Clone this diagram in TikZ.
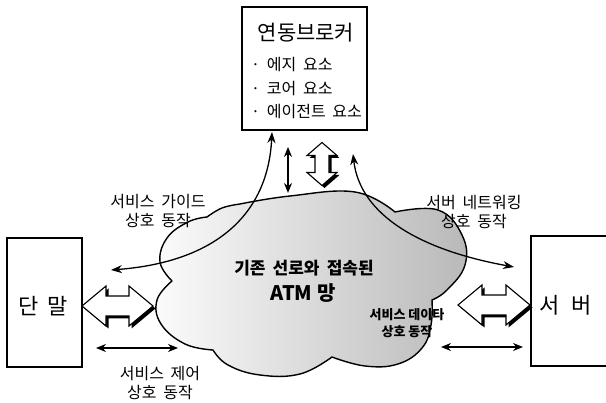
\documentclass[tikz,border=0pt]{standalone}
\usepackage{fontspec}
\setmainfont{Noto Sans CJK KR}
\usetikzlibrary{arrows.meta}
\newcommand\BlockArr[7]{%
  \fill[black,shift={(#1+2.5,#2+2.5)},rotate=#3]
    (-#4,0) -- (-#4+#7,-#5) -- (-#4+#7,-#6) -- (#4-#7,-#6) -- (#4-#7,-#5) -- (#4,0)
    -- (#4-#7,#5) -- (#4-#7,#6) -- (-#4+#7,#6) -- (-#4+#7,#5) -- cycle;
  \filldraw[fill=white,line width=1.1pt,line join=miter,shift={(#1,#2)},rotate=#3]
    (-#4,0) -- (-#4+#7,-#5) -- (-#4+#7,-#6) -- (#4-#7,-#6) -- (#4-#7,-#5) -- (#4,0)
    -- (#4-#7,#5) -- (#4-#7,#6) -- (-#4+#7,#6) -- (-#4+#7,#5) -- cycle;}
\newcommand\wsp{\spaceskip=0.42em plus 0.1em\relax}
\begin{document}
\begin{tikzpicture}[x=1pt,y=-1pt,
  boxst/.style={draw,line width=1.3pt,fill=white},
  lbl/.style={align=center,font=\fontsize{16}{18.5}\selectfont\wsp,inner sep=0pt},
  bul/.style={anchor=west,font=\fontsize{16}{18}\selectfont\wsp,inner sep=0pt},
  thinarr/.style={line width=1.3pt,{Stealth[length=10pt,width=8pt]}-{Stealth[length=10pt,width=8pt]}},
  curvearr/.style={line width=1.3pt,{Stealth[length=11pt,width=8pt]}-{Stealth[length=11pt,width=8pt]}}]
\useasboundingbox (0,0) rectangle (606,403);
\fill[white] (0,0) rectangle (606,403);

% cloud
\def\cloudpath{(172,281)
  -- plot[smooth,tension=0.7] coordinates {(172,281) (160,262) (167,238) (188,222) (207,217)}
  -- plot[smooth,tension=0.7] coordinates {(207,217) (222,208) (240,204)}
  -- plot[smooth,tension=0.7] coordinates {(240,204) (290,196) (355,192) (395,212)}
  -- plot[smooth,tension=0.7] coordinates {(395,212) (438,210) (462,235) (465,265) (447,290) (432,300)}
  -- plot[smooth,tension=0.7] coordinates {(432,300) (431,325) (422,348) (398,364) (365,366) (332,357)}
  -- plot[smooth,tension=0.7] coordinates {(332,357) (300,374) (260,375) (228,365) (213,350)}
  -- plot[smooth,tension=0.7] coordinates {(213,350) (185,344) (161,324) (157,300) (172,281)}
  -- cycle}
\shade[left color=gray!3, middle color=gray!14, right color=gray!55] \cloudpath;
\draw[line width=1.4pt,line join=round] \cloudpath;

% boxes
\node[boxst,minimum width=125pt,minimum height=123pt] (broker) at (304.5,68.5) {};
\node[font=\fontsize{21}{24}\selectfont] (btitle) at (306,33) {연동브로커};
\node[bul] (b1) at (251,65) {· 에지 요소};
\node[bul] (b2) at (251,89) {· 코어 요소};
\node[bul] (b3) at (251,112) {· 에이전트 요소};

\node[boxst,minimum width=75pt,minimum height=129pt] (term) at (44.5,302.5) {};
\node[font=\fontsize{22}{26}\selectfont] (termt) at (43,306) {단\hspace{0.15em} 말};
\node[boxst,minimum width=76pt,minimum height=130pt] (server) at (569,301) {};
\node[font=\fontsize{22}{26}\selectfont] (servt) at (566,305) {서\hspace{0.3em} 버};

% cloud texts
\node[font=\fontsize{17}{20}\selectfont\bfseries\wsp] (c1) at (304,268) {기존 선로와 접속된};
\node[font=\fontsize{20}{22}\selectfont\bfseries] (c2) at (303,293) {ATM 망};
\node[align=center,font=\fontsize{13}{16.5}\selectfont\bfseries,inner sep=0pt] (c3) at (407,323) {서비스 데이타\\상호 동작};

% labels
\node[lbl] (lg) at (158,211) {서비스 가이드\\상호 동작};
\node[lbl] (ln) at (474,212) {서버 네트워킹\\상호 동작};
\node[lbl] (lc) at (160,383) {서비스 제어\\상호 동작};

% coordinates
\coordinate (gtop) at (272,132);
\coordinate (gend) at (111,270);
\coordinate (ntop) at (353,154);
\coordinate (nend) at (514,267);
\coordinate (vt) at (288,147);
\coordinate (vb) at (288,193);
\coordinate (ta) at (96,348);
\coordinate (tb) at (178,348);
\coordinate (sa) at (441,347);
\coordinate (sb) at (523,347);

% curved arrows
\draw[curvearr] (gtop) .. controls (268,215) and (215,262) .. (gend);
\draw[curvearr] (ntop) .. controls (360,215) and (420,250) .. (nend);

% thin straight arrows
\draw[thinarr] (vt) -- (vb);
\draw[thinarr] (ta) -- (tb);
\draw[thinarr] (sa) -- (sb);

% block arrows
\BlockArr{117.5}{306}{0}{35.5}{20}{10}{24}
\BlockArr{494}{305}{0}{36}{20}{10}{24}
\BlockArr{322}{164}{90}{21.5}{15}{7}{13}
\end{tikzpicture}
\end{document}
